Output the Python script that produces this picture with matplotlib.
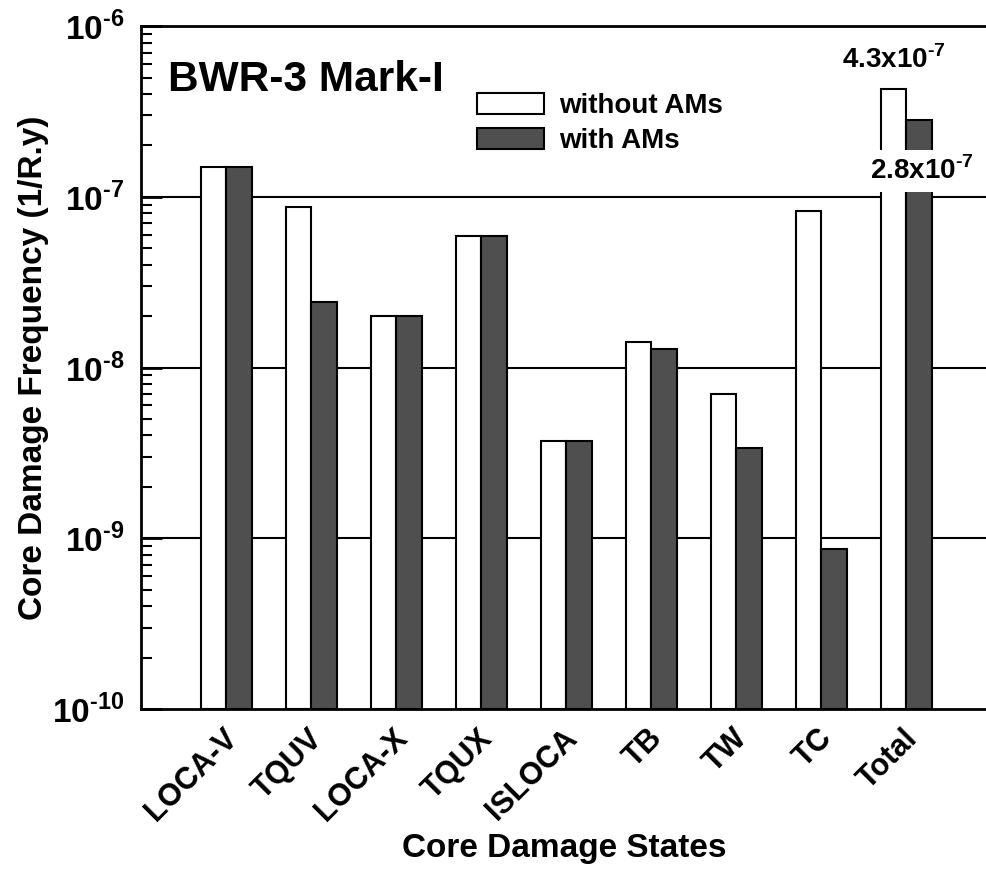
import numpy as np
import matplotlib
matplotlib.use("Agg")
from matplotlib import pyplot as plt
from matplotlib.ticker import LogLocator, FixedLocator
from matplotlib.transforms import ScaledTranslation

plt.rcParams["font.family"] = ["Liberation Sans", "DejaVu Sans"]
plt.rcParams["font.weight"] = "bold"
plt.rcParams["mathtext.fontset"] = "custom"
plt.rcParams["mathtext.rm"] = "Liberation Sans:bold"
plt.rcParams["mathtext.bf"] = "Liberation Sans:bold"

states = ["LOCA-V", "TQUV", "LOCA-X", "TQUX", "ISLOCA", "TB", "TW", "TC", "Total"]
without_ams = [1.5e-7, 8.7e-8, 2.0e-8, 5.9e-8, 3.6e-9, 1.4e-8, 6.9e-9, 8.2e-8, 4.3e-7]
with_ams = [1.5e-7, 2.4e-8, 2.0e-8, 5.9e-8, 3.6e-9, 1.27e-8, 3.3e-9, 7.6e-10, 2.8e-7]
ytick_vals = [1e-10, 1e-9, 1e-8, 1e-7, 1e-6]
ytick_labels = [r"$10^{\text{-10}}$", r"$10^{\text{-9}}$", r"$10^{\text{-8}}$",
                r"$10^{\text{-7}}$", r"$10^{\text{-6}}$"]

fig = plt.figure(figsize=(9.87, 8.71), dpi=100)
ax = fig.add_axes([0.1429, 0.186, 0.8571, 0.784])

x = np.arange(1, len(states) + 1)
w = 0.3
ax.bar(x - w / 2, without_ams, w, bottom=1e-10, color="white", edgecolor="black",
       linewidth=1.5, label="without AMs", zorder=3)
ax.bar(x + w / 2, with_ams, w, bottom=1e-10, color="#4f4f4f", edgecolor="black",
       linewidth=1.5, label="with AMs", zorder=3)

ax.set_yscale("log")
ax.set_ylim(1e-10, 1e-6)
ax.set_xlim(0, 9.95)

for yv in ytick_vals[1:-1]:
    ax.axhline(yv, color="black", linewidth=1.5, zorder=1)

ax.yaxis.set_major_locator(FixedLocator(ytick_vals))
ax.yaxis.set_minor_locator(LogLocator(base=10, subs=np.arange(2, 10), numticks=20))
ax.set_yticklabels(ytick_labels)
ax.tick_params(axis="y", which="major", direction="in", length=15, width=2,
               labelsize=24, pad=12)
ax.tick_params(axis="y", which="minor", direction="in", length=8, width=1.5)

ax.set_xticks(x)
ax.set_xticklabels(states, rotation=45, ha="right", va="baseline",
                   rotation_mode="anchor", fontsize=22)
ax.tick_params(axis="x", length=0, pad=22)
shift = ScaledTranslation(9 / 72, 0, fig.dpi_scale_trans)
for lbl in ax.get_xticklabels():
    lbl.set_transform(lbl.get_transform() + shift)

for s in ["left", "bottom", "top"]:
    ax.spines[s].set_linewidth(2)
ax.spines["right"].set_visible(False)

ax.set_ylabel("Core Damage Frequency (1/R.y)", fontsize=24, fontweight="bold", labelpad=2)
ax.set_xlabel("Core Damage States", fontsize=24, fontweight="bold", labelpad=4)

ax.text(0.032, 0.950, "BWR-3 Mark-I", transform=ax.transAxes, fontsize=30.5,
        fontweight="bold", va="top", ha="left")

ax.legend(loc="upper left", bbox_to_anchor=(0.397, 0.902), frameon=False, fontsize=20,
          handlelength=2.4, handleheight=0.8, labelspacing=0.3, handletextpad=0.55,
          borderpad=0, borderaxespad=0)

ax.text(x[-1] - w / 2, without_ams[-1] * 1.22, r"4.3x10$^{\text{-7}}$", ha="center",
        va="bottom", fontsize=20, fontweight="bold", zorder=5)
ax.text(x[-1] + 0.18, 1.42e-7, r"2.8x10$^{\text{-7}}$", ha="center", va="center",
        fontsize=20, fontweight="bold", zorder=5,
        bbox=dict(facecolor="white", edgecolor="none", pad=5))

fig.savefig("out.png", dpi=100)
